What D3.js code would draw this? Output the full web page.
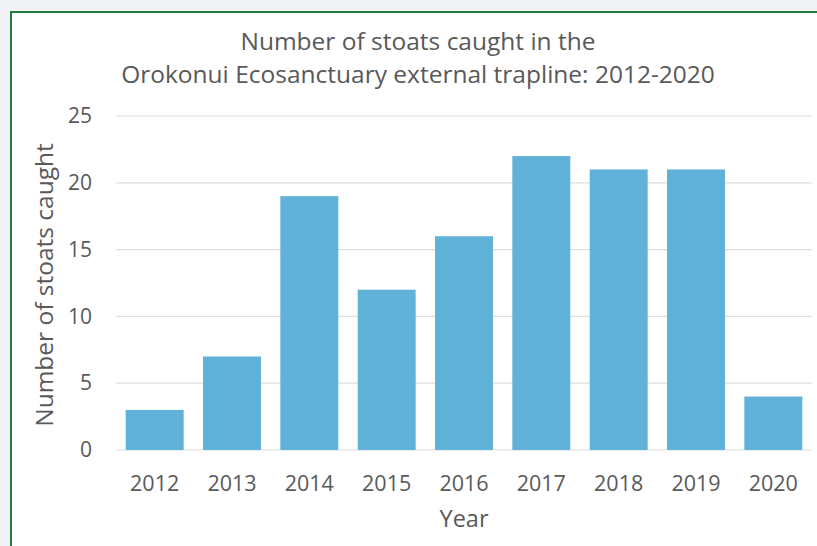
<!DOCTYPE html>
<html>
<head>
<meta charset="utf-8">
<script src="https://cdn.jsdelivr.net/npm/d3@7"></script>
<style>
  html, body { margin: 0; padding: 0; background: #f1f3f6; }
  svg { display: block; }
</style>
</head>
<body>
<script>
// data
const years = ["2012", "2013", "2014", "2015", "2016", "2017", "2018", "2019", "2020"];
const stoats = [3, 7, 19, 12, 16, 22, 21, 21, 4];
const yTicks = [0, 5, 10, 15, 20, 25];
const titleLines = ["Number of stoats caught in the", "Orokonui Ecosanctuary external trapline: 2012-2020"];

const width = 817, height = 546;
const font = "'Open Sans', sans-serif";
const textColor = "#595959";

const svg = d3.select("body").append("svg")
    .attr("width", width)
    .attr("height", height);

// white panel with green frame (cut off at right and bottom)
svg.append("rect")
    .attr("x", 11).attr("y", 12)
    .attr("width", width + 20).attr("height", height + 20)
    .style("fill", "#ffffff")
    .style("stroke", "#217d3e")
    .style("stroke-width", 2);

// scales
const x = d3.scaleBand()
    .domain(years)
    .range([116, 812])
    .paddingInner(0.25)
    .paddingOuter(0.125);

const y = d3.scaleLinear()
    .domain([0, 25])
    .range([450, 116]);

// gridlines
svg.append("g")
    .selectAll("line")
    .data(yTicks)
    .enter()
    .append("line")
        .attr("x1", 116)
        .attr("x2", 812)
        .attr("y1", d => y(d))
        .attr("y2", d => y(d))
        .style("stroke", "#dedede")
        .style("stroke-width", 1.2);

// bars
svg.append("g")
    .selectAll("rect")
    .data(stoats)
    .enter()
    .append("rect")
        .attr("x", (d, i) => x(years[i]))
        .attr("y", d => y(d))
        .attr("width", x.bandwidth())
        .attr("height", d => y(0) - y(d))
        .style("fill", "#61b2d9");

// y axis labels
const yAxis = svg.append("g")
    .attr("transform", "translate(92,0)")
    .call(d3.axisLeft(y).tickValues(yTicks).tickSize(0).tickPadding(0));
yAxis.select(".domain").remove();
yAxis.selectAll("text")
    .style("font-family", font)
    .style("font-size", "21px")
    .style("fill", textColor);

// x axis labels
const xAxis = svg.append("g")
    .attr("transform", "translate(0,476)")
    .call(d3.axisBottom(x).tickSize(0).tickPadding(0));
xAxis.select(".domain").remove();
xAxis.selectAll("text")
    .style("font-family", font)
    .style("font-size", "21.5px")
    .style("fill", textColor);

// title
svg.append("g")
    .selectAll("text")
    .data(titleLines)
    .enter()
    .append("text")
        .text(d => d)
        .attr("x", 418)
        .attr("y", (d, i) => 50 + i * 33)
        .attr("text-anchor", "middle")
        .style("font-family", font)
        .style("font-size", "24.5px")
        .style("fill", textColor);

// axis titles
svg.append("text")
    .text("Year")
    .attr("x", 464)
    .attr("y", 527)
    .attr("text-anchor", "middle")
    .style("font-family", font)
    .style("font-size", "23.5px")
    .style("fill", textColor);

svg.append("text")
    .text("Number of stoats caught")
    .attr("transform", "translate(53,285) rotate(-90)")
    .attr("text-anchor", "middle")
    .style("font-family", font)
    .style("font-size", "24.5px")
    .style("fill", textColor);
</script>
</body>
</html>
